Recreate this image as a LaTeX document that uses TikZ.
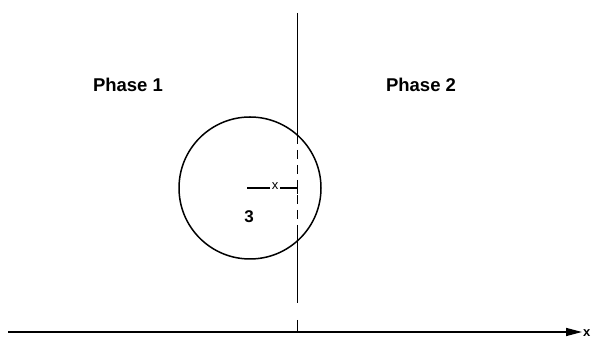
\documentclass[tikz,border=0pt]{standalone}
\usepackage{fontspec}
\setmainfont{Liberation Sans}
\usetikzlibrary{arrows.meta}
\begin{document}
\begin{tikzpicture}[x=1pt,y=1pt,
  ln/.style={line width=1.5pt},
  lbl/.style={font=\bfseries\fontsize{18.5}{21}\selectfont, inner sep=0pt}]
\useasboundingbox (0,0) rectangle (594,339);
% circle
\node[draw, line width=1.5pt, circle, minimum size=142pt, inner sep=0pt] (c) at (250,151) {};
% vertical interface line
\coordinate (vtop) at (297.5,326);
\coordinate (v1) at (297.5,204);
\coordinate (v2) at (297.5,108);
\coordinate (v3) at (297.5,36);
\coordinate (v4) at (297.5,19);
\coordinate (vbot) at (297.5,7);
\draw[ln] (vtop) -- (v1);
\draw[ln, dash pattern=on 9pt off 6pt] (v1) -- (v2);
\draw[ln] (v2) -- (v3);
\draw[ln] (v4) -- (vbot);
% axis
\coordinate (a0) at (8,7);
\coordinate (a1) at (582,7);
\draw[ln, -{Triangle[length=16pt,width=8pt]}] (a0) -- (a1);
\node[font=\bfseries\fontsize{13}{15}\selectfont, inner sep=0pt, anchor=west] (ax) at (583,6) {x};
% labels
\node[lbl] (p1) at (128,254) {Phase 1};
\node[lbl] (p2) at (421,254) {Phase 2};
\node[lbl, font=\bfseries\fontsize{17}{20}\selectfont] (n3) at (249,122) {3};
% x marker
\node[font=\fontsize{13}{14}\selectfont, inner sep=1.5pt] (xm) at (275,153) {x};
\coordinate (m0) at (247,151);
\coordinate (m1) at (297.5,151);
\draw[line width=1.2pt] (m0) -- (m0 -| xm.west);
\draw[line width=1.2pt] (m1 -| xm.east) -- (m1);
\draw[line width=1.4pt] (297.5,145) -- (297.5,156);
\end{tikzpicture}
\end{document}
